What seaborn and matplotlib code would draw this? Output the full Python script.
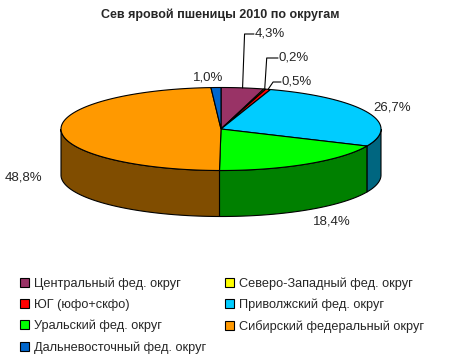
import numpy as np
import matplotlib
matplotlib.use("Agg")
import matplotlib.pyplot as plt
import seaborn as sns
from matplotlib.colors import to_rgb
from matplotlib.patches import Patch

# ---- data ---- #
districts = ["Центральный фед. округ", "Северо-Западный фед. округ", "ЮГ (юфо+скфо)",
             "Приволжский фед. округ", "Уральский фед. округ", "Сибирский федеральный округ",
             "Дальневосточный фед. округ"]
shares = [4.3, 0.2, 0.5, 26.7, 18.4, 48.8, 1.0]
colors = ["#993366", "#FFFF00", "#FF0000", "#00CCFF", "#00FF00", "#FF9900", "#0066CC"]
title = "Сев яровой пшеницы 2010 по округам"

# ---- layout (pixels of a 456x360 canvas) ---- #
cx, cy, rx, ry, depth = 221, 129, 160, 41.5, 46
label_pos = [(255, 34), (279, 58), (282, 82), (373, 108), (313, 221), (5, 178), (193, 77)]
leader_dx = {0: 2, 1: 2, 2: 5}

sns.set_theme(style="white")
plt.rcParams["font.family"] = ["Liberation Sans", "DejaVu Sans"]

fig = plt.figure(figsize=(4.56, 3.6), dpi=100)
ax = fig.add_axes([0, 0, 1, 1])
ax.set_xlim(0, 456)
ax.set_ylim(360, 0)
ax.axis("off")

vals = np.array(shares)
ends = np.cumsum(vals) / vals.sum() * 360
starts = np.concatenate([[0], ends[:-1]])


def rim(a0, a1):
    # angle measured clockwise from 12 o'clock, projected onto the tilted ellipse
    phi = np.radians(np.linspace(a0, a1, max(int(a1 - a0) * 2, 2)))
    return cx + rx * np.sin(phi), cy - ry * np.cos(phi)


# side walls (only the front half is visible)
for a0, a1, c in zip(starts, ends, colors):
    lo, hi = max(a0, 90), min(a1, 270)
    if hi > lo:
        x, y = rim(lo, hi)
        dark = np.array(to_rgb(c)) * 0.5
        ax.fill(np.concatenate([x, x[::-1]]), np.concatenate([y, y[::-1] + depth]),
                facecolor=dark, edgecolor="black", linewidth=0.8)

# top faces
for a0, a1, c in zip(starts, ends, colors):
    x, y = rim(a0, a1)
    ax.fill(np.concatenate([[cx], x]), np.concatenate([[cy], y]),
            facecolor=c, edgecolor="black", linewidth=0.8)

# percentage labels
for i, v in enumerate(shares):
    tx, ty = label_pos[i]
    ax.text(tx, ty, f"{v:.1f}%".replace(".", ","), ha="left", va="center", fontsize=9.5)
    if i in leader_dx:
        mid = np.radians((starts[i] + ends[i]) / 2)
        sx, sy = cx + rx * np.sin(mid), cy - ry * np.cos(mid)
        ax.plot([sx, sx + leader_dx[i], tx - 1], [sy, ty, ty], color="black", linewidth=0.8)

ax.text(220, 15, title, ha="center", va="center", fontsize=9, fontweight="bold")

# legend: two columns, row-major order as in the reference
handles = [Patch(facecolor=c, edgecolor="black", linewidth=0.8) for c in colors]
kw = dict(loc="upper left", bbox_transform=ax.transData, frameon=False, fontsize=9.2,
          borderpad=0, handlelength=0.7, handleheight=0.7, handletextpad=0.35, labelspacing=0.7)
left = ax.legend(handles[0::2], districts[0::2], bbox_to_anchor=(14, 271), **kw)
ax.add_artist(left)
ax.legend(handles[1::2], districts[1::2], bbox_to_anchor=(219, 271), **kw)

fig.savefig("out.png", dpi=100, facecolor="white")
